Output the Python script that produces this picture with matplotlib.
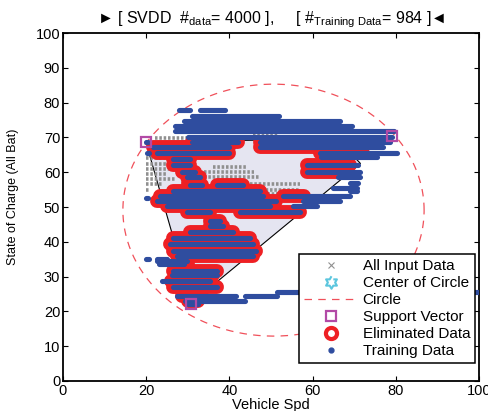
import numpy as np
import matplotlib
matplotlib.use('Agg')
import matplotlib.pyplot as plt
from matplotlib.lines import Line2D

plt.rcParams['font.family'] = ['Liberation Sans', 'DejaVu Sans']
plt.rcParams['mathtext.fontset'] = 'custom'
plt.rcParams['mathtext.rm'] = 'Liberation Sans'
plt.rcParams['mathtext.it'] = 'Liberation Sans'

# training data, drawn as rows of dots: y, x start, x end
train_y = [77.8, 77.8, 76.2, 74.7, 73.2, 71.7, 70.2, 68.8, 68.8, 68.8, 67.2, 67.2,
           65.6, 65.6, 65.5, 64.3, 63.8, 62.0, 62.0, 60.0, 60.0, 58.5, 58.5, 57.0,
           56.2, 56.2, 55.5, 54.7, 54.7, 53.3, 53.3, 52.5, 51.8, 51.8, 50.3, 50.3,
           48.7, 48.7, 46.0, 44.6, 42.7, 41.2, 39.4, 37.4, 36.0, 35.2, 35.2, 34.5,
           33.5, 31.7, 30.5, 28.8, 27.0, 25.6, 24.5, 24.5, 23.0, 22.0]
train_x0 = [27.8, 33.0, 31.0, 29.0, 27.0, 27.0, 30.0, 20.0, 31.0, 47.3, 21.7, 47.4,
            22.5, 61.8, 20.1, 62.0, 26.5, 26.5, 58.6, 28.5, 58.6, 29.7, 66.2, 69.0,
            30.5, 37.0, 65.0, 26.5, 69.0, 23.3, 53.0, 19.9, 22.5, 57.8, 24.9, 55.4,
            29.7, 42.5, 35.3, 35.3, 30.5, 26.5, 25.7, 26.5, 27.3, 20.0, 22.5, 22.5,
            23.0, 26.5, 26.1, 23.7, 26.5, 51.4, 27.3, 43.7, 29.3, 30.0]
train_x1 = [30.5, 39.0, 52.0, 66.5, 69.5, 79.5, 79.0, 20.4, 42.0, 78.6, 40.0, 77.0,
            40.0, 80.3, 20.6, 75.5, 30.5, 30.5, 71.0, 31.8, 71.4, 33.0, 71.4, 71.0,
            33.5, 43.3, 70.6, 47.3, 70.6, 48.1, 69.0, 20.4, 51.3, 66.6, 49.7, 61.0,
            35.3, 57.0, 37.7, 38.5, 40.9, 45.0, 45.7, 46.5, 45.7, 20.6, 25.0, 29.7,
            29.0, 37.0, 37.0, 35.3, 37.0, 100.0, 41.7, 51.4, 43.7, 32.5]

# eliminated data rows: y, x start, x end
elim_y = [68.8, 68.8, 67.2, 67.2, 65.6, 65.6, 63.8, 62.0, 62.0, 60.0, 60.0, 58.5,
          57.0, 56.2, 56.2, 54.7, 53.3, 53.3, 51.8, 50.3, 48.7, 48.7, 46.0, 44.6,
          42.7, 41.2, 39.4, 37.4, 36.0, 33.5, 31.7, 30.5, 28.8, 27.0, 24.5, 23.0]
elim_x0 = [31.0, 47.3, 21.7, 47.4, 22.5, 61.8, 26.5, 26.5, 58.6, 28.5, 58.6, 29.7,
           30.0, 31.0, 37.0, 26.5, 23.3, 53.0, 22.5, 24.9, 29.7, 42.5, 35.3, 35.3,
           30.5, 26.5, 25.7, 26.5, 27.3, 28.0, 26.5, 28.0, 26.0, 26.5, 28.5, 30.0]
elim_x1 = [42.0, 62.0, 40.0, 69.0, 40.0, 72.0, 30.5, 30.5, 69.0, 31.8, 67.0, 33.0,
           32.5, 33.5, 43.3, 47.3, 48.1, 58.0, 51.3, 49.7, 35.3, 57.0, 37.7, 38.5,
           40.9, 45.0, 45.7, 46.5, 45.7, 30.0, 37.0, 36.0, 35.0, 37.0, 33.5, 32.5]

# all input data still visible: y, x start, x end
input_y = [69.8, 69.8, 71.0, 64.0, 62.5, 61.0, 59.5, 58.0, 56.5, 55.0, 61.5, 60.0,
           58.5, 56.5, 55.0, 53.8]
input_x0 = [22.0, 41.0, 45.7, 20.0, 20.0, 20.0, 20.0, 20.0, 20.0, 20.0, 36.0, 34.0,
            34.0, 45.0, 46.6, 48.0]
input_x1 = [30.5, 48.0, 52.0, 28.0, 25.0, 26.0, 25.0, 27.0, 24.0, 21.0, 44.0, 46.0,
            47.0, 57.0, 57.0, 56.0]

# support vectors and SVDD circle
sv_x = [20.0, 79.0, 30.7]
sv_y = [68.8, 70.4, 22.0]
center_x, center_y, radius = 50.6, 49.1, 36.2

# region boundary
hull_x = [20.0, 66.0, 71.5, 37.0, 31.0, 26.2, 20.8]
hull_y = [68.8, 69.5, 62.5, 28.5, 29.0, 42.5, 65.0]

c_blue = '#2f4d9f'
c_red = '#ee2024'
c_gray = '#909090'
c_sv = '#b24aa6'
c_cen = '#5cc6de'
c_circ = '#f0505a'

ang = np.deg2rad(90 + 30 * np.arange(12))
rad = np.where(np.arange(12) % 2 == 0, 1.0, 1 / np.sqrt(3))
hexagram = np.column_stack([rad * np.cos(ang), rad * np.sin(ang)])

fig = plt.figure(figsize=(4.89, 4.11), dpi=100)
ax = fig.add_axes([0.1288, 0.073, 0.8508, 0.8467])

ax.fill(hull_x, hull_y, facecolor='#e5e5f1', edgecolor='black', lw=0.8, zorder=1)

for y, a, b in zip(input_y, input_x0, input_x1):
    ax.plot([a, b], [y, y], color=c_gray, lw=2.6, ls=(0, (0.7, 0.5)),
            solid_capstyle='butt', zorder=2)

t = np.linspace(0, 2 * np.pi, 400)
ax.plot(center_x + radius * np.cos(t), center_y + radius * np.sin(t),
        color=c_circ, lw=0.9, dashes=(6, 5), zorder=2.5)
ax.plot(center_x, center_y, marker=hexagram, ms=9, mec=c_cen, mfc='white',
        mew=1.5, ls='none', zorder=3)

for y, a, b in zip(elim_y, elim_x0, elim_x1):
    ax.plot([a, b], [y, y], color=c_red, lw=10, solid_capstyle='round', zorder=4)

for y, a, b in zip(train_y, train_x0, train_x1):
    ax.plot([a, b], [y, y], color=c_blue, lw=3.7, solid_capstyle='round', zorder=5)

ax.plot(sv_x, sv_y, 's', ms=7.5, mfc='none', mec=c_sv, mew=1.6, zorder=6)

ax.set_xlim(0, 100)
ax.set_ylim(0, 100)
ax.set_xticks(np.arange(0, 101, 20))
ax.set_yticks(np.arange(0, 101, 10))
ax.tick_params(direction='in', top=True, right=True, length=3.5, width=0.8,
               labelsize=10.5, pad=2)
for s in ax.spines.values():
    s.set_linewidth(1.3)
ax.set_xlabel('Vehicle Spd', fontsize=10.5, labelpad=0)
ax.set_ylabel('State of Charge (All Bat)', fontsize=9)
ax.yaxis.set_label_coords(-0.105, 0.53)
ax.set_title('\u25ba [ SVDD  #$_{\\rm data}$= 4000 ],     '
             '[ #$_{\\rm Training\\ Data}$= 984 ]\u25c4', fontsize=11.5, pad=7)

handles = [
    Line2D([], [], ls='none', marker='x', ms=4, mec=c_gray, mew=0.8),
    Line2D([], [], ls='none', marker=hexagram, ms=9, mec=c_cen, mfc='white', mew=1.5),
    Line2D([], [], color=c_circ, lw=0.9, dashes=(6, 5)),
    Line2D([], [], ls='none', marker='s', ms=7.5, mfc='none', mec=c_sv, mew=1.6),
    Line2D([], [], ls='none', marker='o', ms=8, mfc='white', mec=c_red, mew=3),
    Line2D([], [], ls='none', marker='o', ms=3.5, mfc=c_blue, mec=c_blue),
]
labels = ['All Input Data', 'Center of Circle', 'Circle', 'Support Vector',
          'Eliminated Data', 'Training Data']
leg = ax.legend(handles, labels, loc='lower right', bbox_to_anchor=(0.99, 0.052),
                borderaxespad=0, fancybox=False, edgecolor='black', framealpha=1,
                fontsize=11, handlelength=3.5, handletextpad=0.35, labelspacing=0.2,
                borderpad=0.3)
leg.get_frame().set_linewidth(1.1)
leg.set_zorder(10)

fig.savefig('out.png', dpi=100)
